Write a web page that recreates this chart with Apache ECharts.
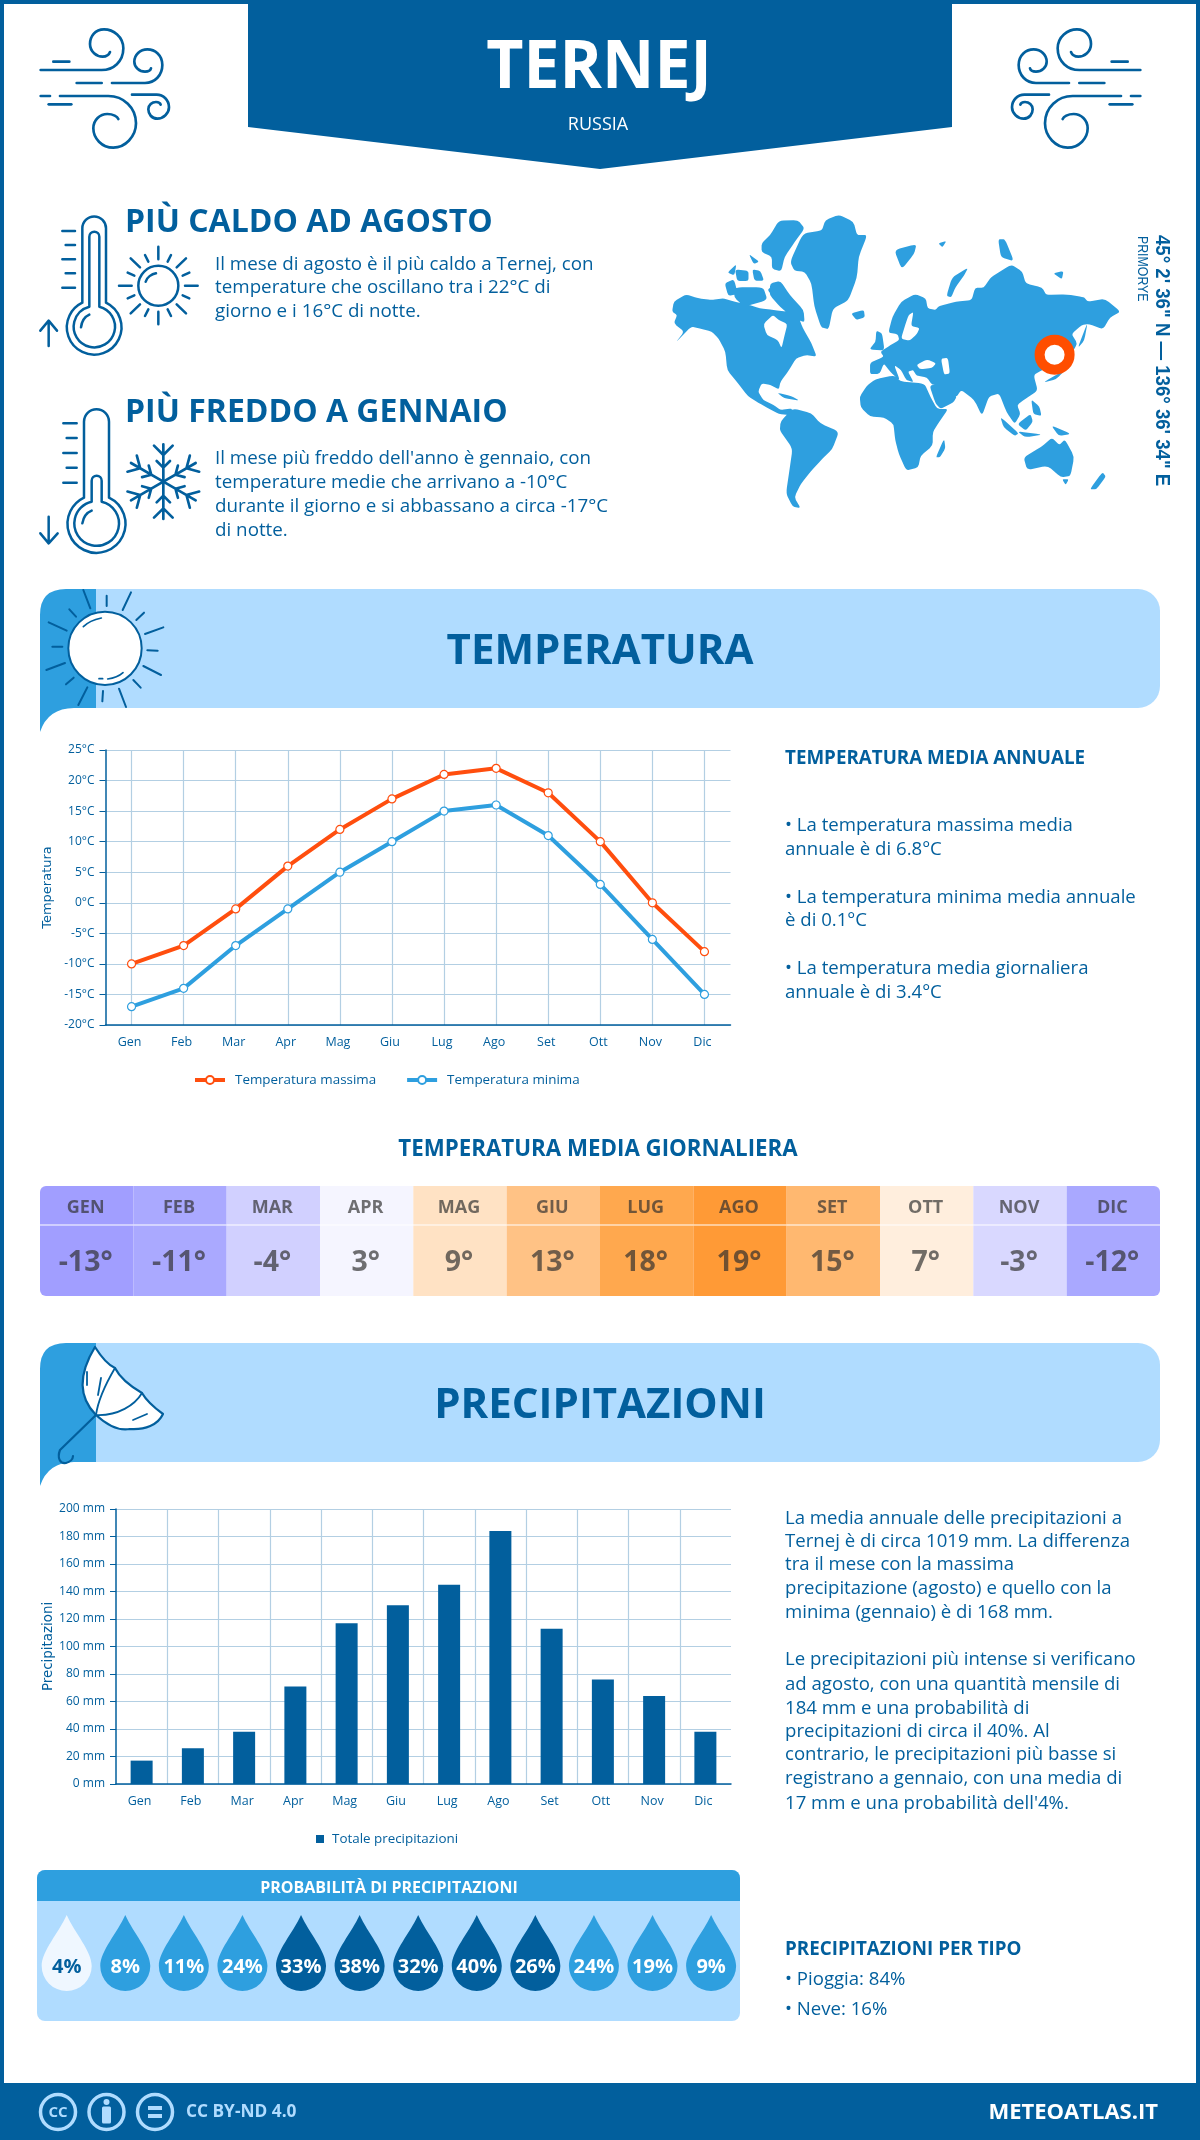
<!DOCTYPE html>
<html>
<head>
<meta charset="utf-8">
<title>Ternej - Meteo Atlas</title>
<script src="https://cdn.jsdelivr.net/npm/echarts@6/dist/echarts.min.js"></script>
<style>
  html, body { margin: 0; padding: 0; background: #fff; }
  #main { width: 1200px; height: 2140px; }
</style>
</head>
<body>
<div id="main"></div>
<script>
// chart data
const months = ['Gen','Feb','Mar','Apr','Mag','Giu','Lug','Ago','Set','Ott','Nov','Dic'];
const monthsUpper = ['GEN','FEB','MAR','APR','MAG','GIU','LUG','AGO','SET','OTT','NOV','DIC'];
const tempMax = [-10,-7,-1,6,12,17,21,22,18,10,0,-8];
const tempMin = [-17,-14,-7,-1,5,10,15,16,11,3,-6,-15];
const tempDaily = [-13,-11,-4,3,9,13,18,19,15,7,-3,-12];
const precipTotal = [17,26,38,71,117,130,145,184,113,76,64,38];
const precipProb = [4,8,11,24,33,38,32,40,26,24,19,9];

const cellColors = ['#a19eff','#aaa9ff','#d1d0ff','#f5f5ff','#ffe2c4','#ffc285','#ffa84e','#ff9a36','#ffb870','#ffeedd','#d9d8ff','#a9a8ff'];

const DARK = '#025f9d', MID = '#2e9fdf', LIGHT = '#b0dcff', ORANGE = '#ff4e0e', GRIDC = '#b3cfe3';
const FF = '"Open Sans"';

function txt(s, x, y, font, fill, align, rotation, scaleX) {
  return { type: 'text', x: x, y: y, rotation: rotation || 0, scaleX: scaleX || 1,
    style: { text: s, font: font, fill: fill || DARK, align: align || 'left', textAlign: align || 'left',
      verticalAlign: 'middle', textVerticalAlign: 'middle' } };
}
function lines(arr, x, ys, font) {
  return arr.map((s, i) => txt(s, x, ys[i] + 1.5, font));
}
function stroke(d, lw, color, fill) {
  return { type: 'path', shape: { pathData: d },
    style: { stroke: color || DARK, lineWidth: lw, fill: fill || 'none', lineCap: 'round', lineJoin: 'round' } };
}
function icon(x, y, sx, sy, children, rotation) {
  return { type: 'group', x: x, y: y, scaleX: sx, scaleY: sy, rotation: rotation || 0, children: children };
}

// wind icon
const windPaths = [
  'M70,125 H118',
  'M32,150 H215 C250,150 280,125 280,85 C280,50 250,28 222,28 C195,28 180,50 180,72 C180,95 200,110 218,110 C230,110 238,102 240,96',
  'M140,189 H215',
  'M246,189 H345 C375,189 397,165 397,135 C397,105 375,88 352,88 C330,88 313,105 313,125 C313,142 328,155 345,155 C355,155 362,150 363,145',
  'M32,228 H60 M90,228 H235 C280,228 318,262 318,310 C318,350 285,383 250,383 C215,383 190,355 190,325 C190,300 210,282 232,282 C250,282 262,290 265,297',
  'M56,253 H124',
  'M306,224 H380 C400,224 417,240 417,262 C417,280 400,296 382,296 C365,296 355,282 355,268 C355,255 366,246 378,246 C385,246 391,250 392,254'
];

// hot and cold thermometers, sun, snowflake
const hotIcon = [
  'M157,85 A35.5,35.5 0 0 1 228,85 V308 A82,82 0 1 1 157,308 Z',
  'M178,110 A15,15 0 0 1 208,110 V320 A62,62 0 1 1 178,320 Z',
  'M153,382 C155,365 165,350 178,344',
  'M97,93 H135 M107,135 H135 M97,178 H135 M107,220 H135 M97,263 H135',
  'M56,438 V362 M31,392 L56,362 L81,392',
  'M325,257 A60,60 0 1 1 445,257 A60,60 0 1 1 325,257 Z',
  'M347,245 C350,232 365,222 378,220',
  'M385,140 V178 M385,335 V373 M267,257 H305 M465,257 H503 M302,175 L330,202 M468,175 L440,202 M302,340 L330,313 M468,340 L440,313',
  'M345,165 L355,185 M423,165 L413,185 M293,218 L313,227 M478,218 L458,227 M293,295 L313,286 M478,295 L458,286 M345,348 L355,328 M423,348 L413,328'
];
const coldIcon = [
  'M162,665 A37.5,37.5 0 0 1 237,665 V893 A87,87 0 1 1 162,893 Z',
  'M185,842 A15,15 0 0 1 215,842 V905 A67,67 0 1 1 185,905 Z',
  'M157,970 C160,952 170,938 185,932',
  'M100,670 H140 M110,714 H140 M100,759 H140 M110,803 H140 M100,848 H140',
  'M56,950 V1030 M31,1000 L56,1030 L83,1000'
];
const flakeArm = 'M0,0 V-112 M-28,-108 L0,-80 L28,-108 M-20,-62 L0,-42 L20,-62';

// banner icons
const sunRays = 'M160,30 L181,85 M230,47 L230,78 M303,37 L278,90 M118,88 L138,110 M342,98 L319,120 M56,127 L110,152 M400,142 L345,162 M67,200 L97,200 M352,211 L383,212 M49,270 L105,249 M393,285 L340,258 M131,293 L108,313 M310,300 L332,323 M172,322 L145,375 M219,333 L217,364 M267,326 L288,381';
const sunDisc = 'M115,205 A110,110 0 1 1 335,205 A110,110 0 1 1 115,205 Z';
const sunShine = 'M160,140 C175,125 195,118 214,114 M233,297 C250,295 268,288 279,278 M207,296 H218';
const umbrellaCanopy = 'M95,1347 C78,1375 78,1397 96,1415 C108,1426 120,1431 130,1429 C145,1430 158,1425 163,1414 C152,1406 146,1400 142,1393 C130,1386 120,1378 115,1368 C106,1364 100,1355 95,1347 Z';
const umbrellaRibs = 'M115,1368 C105,1385 98,1400 96,1415 M142,1393 C135,1405 118,1416 96,1415 M87,1372 V1385 M98,1395 L101,1378 M133,1420 L147,1414';
const umbrellaHandle = 'M96,1415 L60,1450 C57,1458 60,1464 66,1463 C70,1462 73,1459 73,1456';

// rough world outline, 2.904 x 3 px per map unit
const worldLand = [
  // north and central america
  [35,335,40,305,75,283,110,295,150,300,185,295,215,305,250,312,290,325,330,330,370,335,400,345,415,385,440,430,455,470,425,465,395,475,375,510,350,545,345,568,320,555,295,550,285,575,300,600,330,615,350,630,385,625,375,645,345,642,320,628,285,608,255,588,225,548,195,510,190,455,170,415,150,395,115,385,90,380,45,428,70,395,40,370,50,345],
  // south america
  [350,665,385,625,440,640,465,670,520,695,500,748,470,778,440,812,410,850,390,892,408,924,385,920,366,880,376,810,385,745,348,692],
  // greenland
  [378,185,415,100,470,92,480,60,520,44,562,65,572,105,602,105,577,170,572,232,547,302,502,325,490,388,468,382,448,320,440,250,420,215,390,212],
  // arctic islands
  [295,130,320,105,345,62,400,60,420,85,392,125,362,170,352,214,325,207,325,170,295,156],
  [320,250,350,243,377,285,417,330,420,368,385,352,350,322,318,285],
  [188,250,215,238,226,282,198,288],[218,262,300,262,312,300,245,320,215,292],[196,218,222,192,216,226],[218,208,257,213,257,243,224,243],[268,208,292,213,302,242,274,242],[258,162,288,185,272,192],[312,268,345,250,352,278,325,288],
  // iceland, britain, svalbard, novaya zemlya
  [555,340,592,330,595,352,570,360],[628,392,645,400,652,452,608,448,626,425],[680,150,745,132,738,162,702,208],[832,288,848,232,895,203,882,228,858,262,846,292],
  // eurasia
  [663,398,675,350,700,305,740,282,772,295,777,325,800,330,810,318,860,305,905,300,915,263,940,263,960,233,1020,193,1052,215,1062,250,1110,263,1122,285,1180,283,1232,292,1242,305,1292,296,1338,335,1307,352,1287,388,1245,372,1225,375,1195,402,1212,430,1192,468,1150,502,1110,510,1085,525,1097,572,1060,597,1037,615,1047,642,1030,672,1006,636,985,580,955,590,935,648,913,600,875,570,860,592,822,555,790,555,775,532,745,527,735,510,720,515,737,547,715,540,700,510,680,495,697,542,668,515,650,490,638,522,610,522,610,488,650,470,640,455,670,435,695,420,690,402],
  // africa and arabia
  [580,590,600,558,625,538,680,526,700,545,768,550,785,590,805,627,837,627,810,667,792,697,792,737,757,767,750,802,715,812,693,760,683,720,678,672,650,652,610,650,583,622],
  [782,555,825,555,862,590,852,607,815,627,800,610],
  // madagascar, australia, new zealand, indonesia, japan and other islands
  [801,772,825,716,829,745,813,772],
  [1056,772,1108,740,1138,713,1160,735,1176,718,1203,770,1192,828,1165,832,1125,797,1066,810],
  [1248,868,1285,816,1295,830,1267,868],[1168,838,1187,838,1178,855],
  [988,650,1042,700,1030,708,998,682],[1038,672,1076,642,1083,665,1062,692],[1136,676,1194,702,1158,708],[1038,694,1112,704,1060,712],[1078,598,1102,620,1108,648,1084,642],
  [1112,548,1178,508,1152,537],[1213,444,1242,366,1232,422],[982,118,1002,118,1028,184,990,172],[1142,220,1172,213,1167,238],[808,130,832,123,820,142],[340,578,382,588,405,602,360,594]
];
const worldHoles = [
  [745,495,775,478,802,490,790,504,755,508],[816,476,836,473,842,520,825,524],
  [700,416,712,375,722,345,736,336,729,378,754,384,746,402,725,422],
  [300,372,328,345,345,360,370,372,362,405,353,445,342,420,310,405]
];
function polyPath(list) {
  // softens each corner a little so the coast does not look cut out
  const k = 0.25;
  return list.map(p => {
    const n = p.length / 2;
    const pt = i => [p[((i + n) % n) * 2], p[((i + n) % n) * 2 + 1]];
    const toward = (a, b) => [a[0] + (b[0] - a[0]) * k, a[1] + (b[1] - a[1]) * k];
    let d = '';
    for (let i = 0; i < n; i++) {
      const c = pt(i);
      d += (i ? ' L' : 'M') + toward(c, pt(i - 1)).join(',') + ' Q' + c.join(',') + ' ' + toward(c, pt(i + 1)).join(',');
    }
    return d + ' Z';
  }).join(' ');
}

// page furniture: frame, banners, icons, text
function renderPage() {
  const kids = [];
  const h3 = 'bold 32px ' + FF, bodyL = '18.8px ' + FF, bodyR = '18.6px ' + FF, head = 'bold 18.8px ' + FF;
  kids.push({ type: 'rect', shape: { x: 0, y: 0, width: 4, height: 2140 }, style: { fill: DARK } });
  kids.push({ type: 'rect', shape: { x: 1196, y: 0, width: 4, height: 2140 }, style: { fill: DARK } });
  kids.push({ type: 'rect', shape: { x: 0, y: 0, width: 1200, height: 4 }, style: { fill: DARK } });
  kids.push({ type: 'rect', shape: { x: 0, y: 2083, width: 1200, height: 57 }, style: { fill: DARK } });

  // top banner
  kids.push({ type: 'polygon', shape: { points: [[248,0],[952,0],[952,127],[600,169],[248,127]] }, style: { fill: DARK } });
  kids.push(txt('TERNEJ', 599, 69, 'bold 66px ' + FF, '#fff', 'center', 0, 0.975));
  kids.push(txt('RUSSIA', 598, 125, '18px ' + FF, '#fff', 'center'));
  kids.push(icon(30, 20, 1/3, 1/3, windPaths.map(d => stroke(d, 8))));
  kids.push(icon(1151, 20, -1/3, 1/3, windPaths.map(d => stroke(d, 8))));

  // warmest and coldest month
  kids.push(txt('PIÙ CALDO AD AGOSTO', 125, 222.5, h3));
  kids.push(...lines(['Il mese di agosto è il più caldo a Ternej, con', 'temperature che oscillano tra i 22°C di', 'giorno e i 16°C di notte.'], 215, [263,286,310], bodyL));
  kids.push(txt('PIÙ FREDDO A GENNAIO', 125, 412.5, h3));
  kids.push(...lines(["Il mese più freddo dell'anno è gennaio, con", 'temperature medie che arrivano a -10°C', 'durante il giorno e si abbassano a circa -17°C', 'di notte.'], 215, [457,481,505,529], bodyL));
  kids.push(icon(30, 200, 1/3, 1/3, hotIcon.concat(coldIcon).map(d => stroke(d, 7.5))));
  for (let i = 0; i < 6; i++) {
    kids.push(icon(30 + 400/3, 200 + 845/3, 1/3, 1/3, [stroke(flakeArm, 8)], i * Math.PI / 3));
  }

  // map
  kids.push(icon(660, 200, 1/2.904, 1/3, [
    { type: 'path', shape: { pathData: polyPath(worldLand) }, style: { fill: MID } },
    { type: 'path', shape: { pathData: polyPath(worldHoles) }, style: { fill: '#fff' } }
  ]));
  kids.push({ type: 'circle', shape: { cx: 1054.6, cy: 354.7, r: 15 }, style: { fill: '#fff', stroke: '#ff4e00', lineWidth: 10 } });
  kids.push(txt('45° 2\' 36" N — 136° 36\' 34" E', 1162, 235, 'bold 20px "Liberation Sans"', DARK, 'left', -Math.PI / 2, 0.93));
  kids.push(txt('PRIMORYE', 1142, 236, '14px "Liberation Sans"', DARK, 'left', -Math.PI / 2, 0.88));

  // temperature section
  kids.push(banner(589, 'TEMPERATURA'));
  kids.push(icon(30, 580, 1/3, 1/3, [stroke(sunRays, 6), stroke(sunDisc, 6, DARK, '#fff'), stroke(sunShine, 5)]));
  kids.push(txt('TEMPERATURA MEDIA ANNUALE', 785, 759, head));
  kids.push(...lines(['• La temperatura massima media', 'annuale è di 6.8°C', '• La temperatura minima media annuale', 'è di 0.1°C', '• La temperatura media giornaliera', 'annuale è di 3.4°C'], 785, [824,848,896,919,967,991], bodyR));
  kids.push(txt('TEMPERATURA MEDIA GIORNALIERA', 598, 1149.5, 'bold 22.3px ' + FF, DARK, 'center'));

  // precipitation section
  kids.push(banner(1343, 'PRECIPITAZIONI'));
  kids.push(stroke(umbrellaHandle, 2.2), stroke(umbrellaCanopy, 2.2, DARK, '#fff'), stroke(umbrellaRibs, 1.8));
  kids.push(...lines(['La media annuale delle precipitazioni a', 'Ternej è di circa 1019 mm. La differenza', 'tra il mese con la massima', 'precipitazione (agosto) e quello con la', 'minima (gennaio) è di 168 mm.'], 785, [1517,1540,1563,1587,1611], bodyR));
  kids.push(...lines(['Le precipitazioni più intense si verificano', 'ad agosto, con una quantità mensile di', '184 mm e una probabilità di', 'precipitazioni di circa il 40%. Al', 'contrario, le precipitazioni più basse si', 'registrano a gennaio, con una media di', "17 mm e una probabilità dell'4%."], 785, [1658,1683,1707,1730,1753,1777,1802], bodyR));
  kids.push(txt('PRECIPITAZIONI PER TIPO', 785, 1949.5, head));
  kids.push(...lines(['• Pioggia: 84%', '• Neve: 16%'], 785, [1978,2008], bodyR));

  // probability panel
  kids.push({ type: 'rect', shape: { x: 37, y: 1870, width: 703, height: 151, r: 8 }, style: { fill: LIGHT } });
  kids.push({ type: 'rect', shape: { x: 37, y: 1870, width: 703, height: 31, r: [8,8,0,0] }, style: { fill: MID } });
  kids.push(txt('PROBABILITÀ DI PRECIPITAZIONI', 389, 1888.5, 'bold 16px ' + FF, '#fff', 'center'));

  // footer
  const ccX = [58, 106.5, 155];
  ccX.forEach(cx => kids.push({ type: 'circle', shape: { cx: cx, cy: 2112, r: 17.5 }, style: { fill: 'none', stroke: LIGHT, lineWidth: 3.5 } }));
  kids.push(txt('CC', 58, 2112.5, 'bold 15px ' + FF, LIGHT, 'center'));
  kids.push({ type: 'circle', shape: { cx: 106.5, cy: 2102, r: 3 }, style: { fill: LIGHT } });
  kids.push({ type: 'rect', shape: { x: 102, y: 2106.5, width: 9, height: 17, r: 1.5 }, style: { fill: LIGHT } });
  kids.push({ type: 'rect', shape: { x: 148, y: 2106, width: 14, height: 4 }, style: { fill: LIGHT } });
  kids.push({ type: 'rect', shape: { x: 148, y: 2114, width: 14, height: 4 }, style: { fill: LIGHT } });
  kids.push(txt('CC BY-ND 4.0', 186, 2112.5, 'bold 17.3px ' + FF, LIGHT));
  kids.push(txt('METEOATLAS.IT', 1158, 2113, 'bold 22px ' + FF, '#fff', 'right'));

  return { type: 'group', children: kids };
}

function banner(top, title) {
  const b = top + 119;
  return { type: 'group', children: [
    { type: 'rect', shape: { x: 96, y: top, width: 1064, height: 119, r: [0,22,22,0] }, style: { fill: LIGHT } },
    { type: 'path', shape: { pathData: 'M96,' + top + ' H66 Q40,' + top + ' 40,' + (top + 26) + ' V' + (b + 24) + ' Q48,' + b + ' 74,' + b + ' H96 Z' }, style: { fill: MID } },
    txt(title, 600, top + 63, 'bold 42px ' + FF, DARK, 'center')
  ] };
}

// table cell for the daily temperature strip
function cellRenderer(labels, font, top) {
  return function (params, api) {
    const i = api.value(0);
    const c = api.coord([i, 0]);
    const s = api.size([1, 1]);
    const r = top ? [i === 0 ? 6 : 0, i === 11 ? 6 : 0, 0, 0] : [0, 0, i === 11 ? 6 : 0, i === 0 ? 6 : 0];
    return { type: 'group', children: [
      { type: 'rect', shape: { x: c[0] - s[0] / 2, y: c[1] - s[1] / 2, width: s[0], height: s[1], r: r }, style: { fill: cellColors[i] } },
      txt(labels[i], c[0] - 1, c[1] + 2.5, font, 'rgba(45,45,45,0.68)', 'center')
    ] };
  };
}

// rain drop with the chance as its label
const dropPath = 'M25,0 C33,18 50,36 50,51 A25,25 0 0 1 0,51 C0,36 17,18 25,0 Z';
function dropRenderer(params, api) {
  const i = api.value(0);
  const p = api.value(1);
  const c = api.coord([i, 0]);
  const s = api.size([1, 1]);
  const fill = p < 5 ? '#eff7ff' : p < 25 ? MID : DARK;
  return { type: 'group', children: [
    { type: 'path', shape: { pathData: dropPath, x: c[0] - 25, y: c[1] - s[1] / 2, width: 50, height: s[1], layout: 'cover' }, style: { fill: fill } },
    txt(p + '%', c[0], c[1] + 14, 'bold 20px ' + FF, p < 5 ? DARK : '#fff', 'center')
  ] };
}

const chart = echarts.init(document.getElementById('main'), null, { renderer: 'canvas' });

const axisText = { color: DARK, fontFamily: FF, fontSize: 12.5 };
const gridLine = { lineStyle: { color: GRIDC, width: 1.2 } };

chart.setOption({
  animation: false,
  backgroundColor: '#fff',
  textStyle: { fontFamily: FF },
  grid: [
    { left: 105.5, top: 750, width: 625, height: 275 },
    { left: 116, top: 1509, width: 615, height: 275 },
    { left: 40, top: 1186, width: 1120, height: 38.5 },
    { left: 40, top: 1225.5, width: 1120, height: 70.5 },
    { left: 37.4, top: 1915, width: 703, height: 76 }
  ],
  xAxis: [
    { gridIndex: 0, type: 'category', data: months,
      axisLine: { onZero: false, lineStyle: { color: DARK, width: 1.5 } }, axisTick: { show: false },
      axisLabel: Object.assign({ margin: 11, padding: [0, 4, 0, 0] }, axisText),
      splitLine: Object.assign({ show: true, alignWithLabel: true }, gridLine) },
    { gridIndex: 1, type: 'category', data: months,
      axisLine: { onZero: false, lineStyle: { color: DARK, width: 1.5 } }, axisTick: { show: false },
      axisLabel: Object.assign({ margin: 11, padding: [0, 4, 0, 0] }, axisText),
      splitLine: Object.assign({ show: true, showMinLine: false, showMaxLine: false }, gridLine) },
    { gridIndex: 2, type: 'category', data: monthsUpper, show: false },
    { gridIndex: 3, type: 'category', data: monthsUpper, show: false },
    { gridIndex: 4, type: 'category', data: monthsUpper,
      axisLine: { show: false }, axisTick: { show: false },
      axisLabel: { color: DARK, fontFamily: FF, fontWeight: 'bold', fontSize: 15, margin: 4 } }
  ],
  yAxis: [
    { gridIndex: 0, type: 'value', min: -20, max: 25, interval: 5, name: 'Temperatura',
      nameLocation: 'middle', nameGap: 51, nameRotate: 90, nameMoveOverlap: false,
      nameTextStyle: { color: DARK, fontFamily: '"DejaVu Sans"', fontSize: 13 },
      axisLine: { show: true, lineStyle: { color: DARK, width: 1.5 } },
      axisTick: { show: true, length: 6, lineStyle: { color: DARK } },
      axisLabel: Object.assign({ formatter: '{value}°C', margin: 11, padding: [2, 0, 0, 0] }, axisText, { fontSize: 12 }),
      splitLine: gridLine },
    { gridIndex: 1, type: 'value', min: 0, max: 200, interval: 20, name: 'Precipitazioni',
      nameLocation: 'middle', nameGap: 61, nameRotate: 90, nameMoveOverlap: false,
      nameTextStyle: { color: DARK, fontFamily: '"DejaVu Sans"', fontSize: 13.4 },
      axisLine: { show: true, lineStyle: { color: DARK, width: 1.5 } },
      axisTick: { show: true, length: 6, lineStyle: { color: DARK } },
      axisLabel: Object.assign({ formatter: '{value} mm', margin: 11, padding: [2, 0, 0, 0] }, axisText, { fontSize: 12 }),
      splitLine: gridLine },
    { gridIndex: 2, type: 'category', data: ['mese'], show: false },
    { gridIndex: 3, type: 'category', data: ['media'], show: false },
    { gridIndex: 4, type: 'category', data: ['prob'], show: false }
  ],
  legend: [
    { left: 193, top: 1073.5, padding: 0, itemWidth: 30, itemHeight: 10, itemGap: 29,
      data: ['Temperatura massima', 'Temperatura minima'], selectedMode: false,
      lineStyle: { width: 4 },
      textStyle: { color: DARK, fontFamily: FF, fontSize: 13.4, padding: [0, 0, 0, 5] } },
    { left: 316, top: 1832.5, padding: 0, itemWidth: 8, itemHeight: 8,
      data: [{ name: 'Totale precipitazioni', icon: 'rect' }], selectedMode: false,
      textStyle: { color: DARK, fontFamily: FF, fontSize: 13.4, padding: [0, 0, 0, 3] } }
  ],
  series: [
    { type: 'custom', coordinateSystem: 'none', data: [0], silent: true, z: 1, clip: false, renderItem: renderPage },
    { name: 'Temperatura massima', type: 'line', xAxisIndex: 0, yAxisIndex: 0, data: tempMax,
      symbol: 'circle', symbolSize: 8, showAllSymbol: true,
      lineStyle: { color: ORANGE, width: 4 },
      itemStyle: { color: '#fff', borderColor: ORANGE, borderWidth: 1.2 } },
    { name: 'Temperatura minima', type: 'line', xAxisIndex: 0, yAxisIndex: 0, data: tempMin,
      symbol: 'circle', symbolSize: 8, showAllSymbol: true,
      lineStyle: { color: MID, width: 4 },
      itemStyle: { color: '#fff', borderColor: MID, borderWidth: 1.2 } },
    { name: 'Totale precipitazioni', type: 'bar', xAxisIndex: 1, yAxisIndex: 1, data: precipTotal,
      barWidth: 22, itemStyle: { color: DARK } },
    { type: 'custom', xAxisIndex: 2, yAxisIndex: 2, silent: true,
      data: monthsUpper.map((m, i) => [i, 0]),
      renderItem: cellRenderer(monthsUpper, 'bold 18px ' + FF, true) },
    { type: 'custom', xAxisIndex: 3, yAxisIndex: 3, silent: true,
      data: tempDaily.map((t, i) => [i, 0]),
      renderItem: cellRenderer(tempDaily.map(t => t + '°'), 'bold 28.5px ' + FF, false) },
    { type: 'custom', xAxisIndex: 4, yAxisIndex: 4, silent: true, z: 3,
      data: precipProb.map((p, i) => [i, p]),
      encode: { x: 0 },
      renderItem: dropRenderer }
  ]
});
</script>
</body>
</html>
